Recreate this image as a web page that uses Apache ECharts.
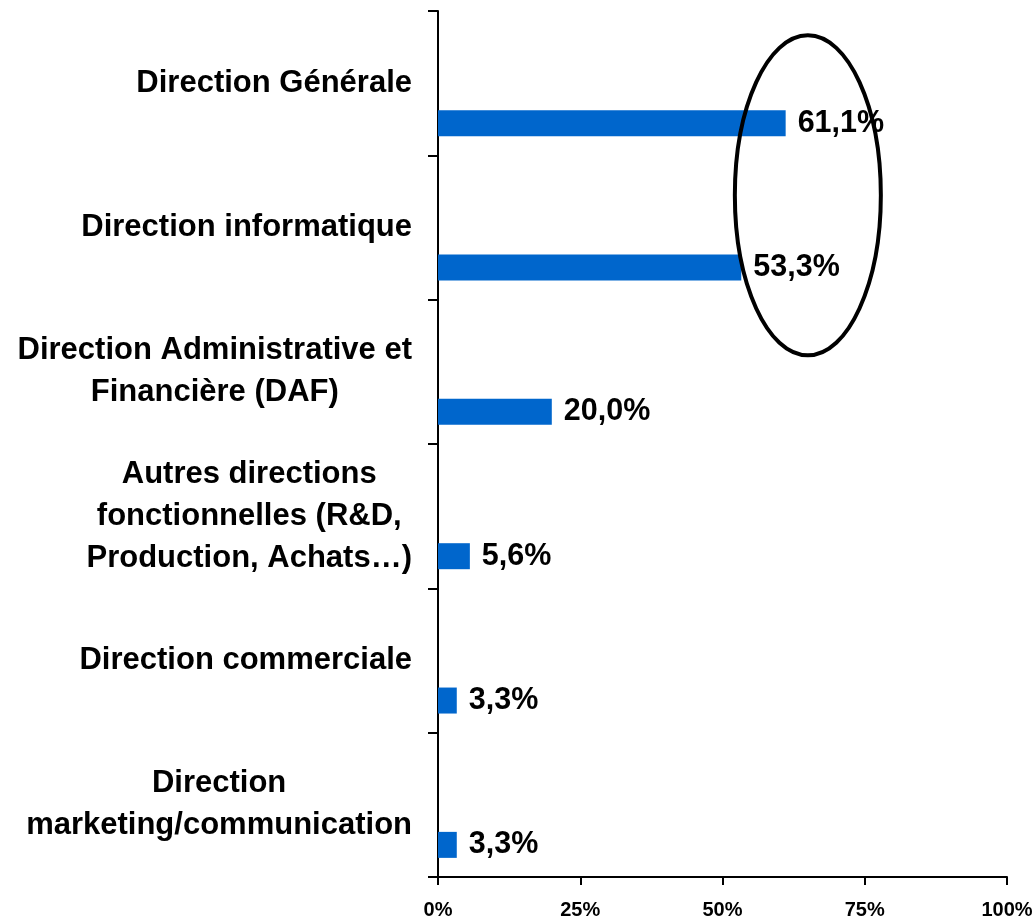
<!DOCTYPE html>
<html>
<head>
<meta charset="utf-8">
<script src="https://cdn.jsdelivr.net/npm/echarts@6/dist/echarts.min.js"></script>
<style>
  html, body { margin: 0; padding: 0; background: #fff; }
  #chart { width: 1036px; height: 920px; }
</style>
</head>
<body>
<div id="chart"></div>
<script>
// categories, top to bottom
const categories = [
  'Direction Générale',
  'Direction informatique',
  'Direction Administrative et\nFinancière (DAF)',
  'Autres directions\nfonctionnelles (R&D,\nProduction, Achats…)',
  'Direction commerciale',
  'Direction\nmarketing/communication'
]
const values = [61.1, 53.3, 20.0, 5.6, 3.3, 3.3]
const placeholder = [0, 0, 0, 0, 0, 0]
const xTicks = [0, 25, 50, 75, 100]

const font = 'Liberation Sans, Arial, sans-serif'
const chart = echarts.init(document.getElementById('chart'))

chart.setOption({
  animation: false,
  grid: {
    left: 438,
    right: 29,
    top: 11,
    bottom: 43,
    outerBoundsMode: 'none'
  },
  xAxis: {
    type: 'value',
    min: xTicks[0],
    max: xTicks[xTicks.length - 1],
    interval: 25,
    splitLine: { show: false },
    axisLine: { show: true, lineStyle: { color: '#000', width: 2 } },
    axisTick: { show: true, length: 8, lineStyle: { color: '#000', width: 2 } },
    axisLabel: {
      formatter: '{value}%',
      fontFamily: font,
      fontWeight: 'bold',
      fontSize: 20,
      color: '#000',
      margin: 23
    }
  },
  yAxis: {
    type: 'category',
    inverse: true,
    data: categories,
    axisLine: { show: true, lineStyle: { color: '#000', width: 2 } },
    axisTick: { show: true, length: 10, lineStyle: { color: '#000', width: 2 } },
    axisLabel: {
      fontFamily: font,
      fontWeight: 'bold',
      fontSize: 31,
      color: '#000',
      margin: 26,
      align: 'right',
      formatter: (v) => v.split('\n').map((s) => '{c|' + s + '}').join('\n'),
      rich: {
        c: {
          align: 'center',
          fontFamily: font,
          fontWeight: 'bold',
          fontSize: 31,
          lineHeight: 42,
          color: '#000'
        }
      }
    }
  },
  series: [
    {
      name: 'spacer',
      type: 'bar',
      data: placeholder,
      barWidth: 26,
      barGap: '208%',
      itemStyle: { color: 'rgba(0,0,0,0)' },
      silent: true
    },
    {
      name: 'valeurs',
      type: 'bar',
      data: values,
      barWidth: 26,
      barGap: '208%',
      itemStyle: { color: '#0066CC' },
      label: {
        show: true,
        position: 'right',
        distance: 12,
        fontFamily: font,
        fontWeight: 'bold',
        fontSize: 30.5,
        color: '#000',
        formatter: (p) => p.value.toFixed(1).replace('.', ',') + '%'
      }
    }
  ]
})

// ellipse round the two first values
const c0 = chart.convertToPixel({ gridIndex: 0 }, [65, categories[0]])
const c1 = chart.convertToPixel({ gridIndex: 0 }, [65, categories[1]])
chart.setOption({
  graphic: [
    {
      type: 'ellipse',
      shape: { cx: c0[0], cy: (c0[1] + c1[1]) / 2 + 40, rx: 73, ry: 160 },
      style: { fill: 'none', stroke: '#000', lineWidth: 4 },
      z: 10
    }
  ]
})
</script>
</body>
</html>
